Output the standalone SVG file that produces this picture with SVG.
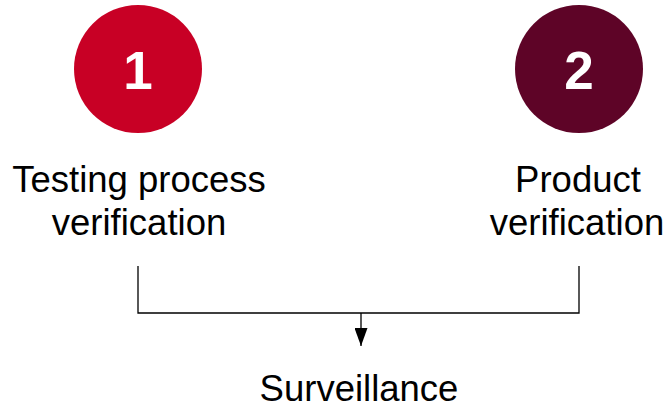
<svg xmlns="http://www.w3.org/2000/svg" width="669" height="408" viewBox="0 0 669 408">
<defs>
<style>
.lbl{font-family:"Liberation Sans",Arial,sans-serif;font-size:36.5px;fill:#000;text-anchor:middle}
.num{font-family:"Liberation Sans",Arial,sans-serif;font-size:53px;font-weight:bold;fill:#fff;text-anchor:middle}
.ln{stroke:#000;stroke-width:1.3;fill:none}
</style>
<marker id="ah" markerWidth="18" markerHeight="13" refX="18" refY="6.5" orient="auto" markerUnits="userSpaceOnUse" viewBox="0 0 18 13">
<path d="M0,0 L18,6.5 L0,13 Z" fill="#000"/>
</marker>
</defs>
<rect width="669" height="408" fill="#fff"/>
<g id="node1">
<circle cx="138" cy="69" r="64" fill="#C80025"/>
<text class="num" x="138" y="89">1</text>
<text class="lbl" x="139" y="192">Testing process</text>
<text class="lbl" x="139" y="235">verification</text>
</g>
<g id="node2">
<circle cx="579" cy="69" r="64" fill="#5E0427"/>
<text class="num" x="579" y="89">2</text>
<text class="lbl" x="578" y="192">Product</text>
<text class="lbl" x="577" y="235">verification</text>
</g>
<g id="node3">
<text class="lbl" x="359" y="401">Surveillance</text>
</g>
<g id="connectors">
<path class="ln" d="M138,266 V313 H579 V266"/>
<path class="ln" d="M361,313 V346" marker-end="url(#ah)"/>
</g>
</svg>
